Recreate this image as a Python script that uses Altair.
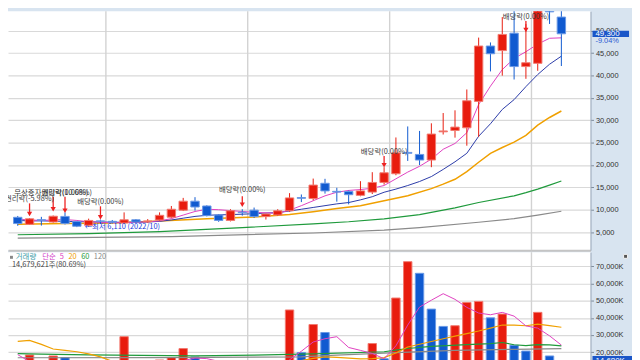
import altair as alt
import pandas as pd

# ---------------- data ----------------
idx = list(range(47))
opens = [8300, 6730, 7750, 7250, 8500, 7380, 6520, 7500, 7400, 7030, 7740, 7300, 7700, 8330, 9900,
         11900, 10830, 8820, 7600, 9450, 9900, 8460, 8820, 9760, 12700, 12500, 15900, 14100, 14070,
         13200, 13930, 16090, 18030, 22800, 22350, 21100, 27400, 27700, 28300, 34200, 46570, 45550,
         49440, 41980, 42700, 58000, 53040]
closes = [6900, 7960, 7650, 8540, 6900, 6300, 7600, 7420, 7200, 7740, 7250, 7500, 8750, 10100, 11900,
          10600, 8670, 7600, 9760, 9350, 8460, 9040, 9760, 12640, 12550, 15500, 14200, 13930, 13350,
          14200, 16090, 18250, 22700, 22600, 21100, 26900, 27600, 28450, 34340, 46570, 44840, 49160,
          41980, 42840, 55000, 54200, 49300]
highs = [8600, 8100, 8400, 8700, 9400, 7500, 8000, 7800, 7700, 9400, 7900, 7900, 9400, 10830, 12640,
         12800, 11000, 9000, 10110, 10100, 10480, 9100, 10110, 13700, 13400, 16950, 16900, 14900, 14300,
         16370, 18380, 19500, 26140, 28600, 27600, 29300, 31600, 32200, 36860, 48450, 47370, 53040,
         55500, 51470, 57000, 60000, 55000]
lows = [6400, 6600, 6450, 7100, 6700, 6110, 6200, 6800, 6900, 6900, 7000, 7100, 7500, 8100, 9700,
        9800, 8500, 7300, 7380, 8670, 8170, 7800, 8600, 9500, 11700, 12100, 13600, 11800, 11200,
        13000, 13500, 15600, 17700, 20900, 19970, 19500, 26800, 26100, 24300, 26300, 40900, 39950,
        39090, 39240, 41030, 51500, 42100]
# volume, thousands of shares
vols = [12000, 18300, 13000, 17750, 16800, 11000, 9500, 10500, 9000, 29020, 10000, 11000, 15400, 16800,
        22050, 17200, 12000, 9000, 8000, 7500, 6800, 14500, 14400, 44600, 19700, 36100, 31450, 13500,
        12500, 13400, 25000, 16100, 51570, 72800, 66000, 45100, 35000, 35400, 49000, 49600, 40000,
        42200, 24000, 20600, 43200, 17750, 14680]

# price moving averages
pma5 = [7900, 7700, 7600, 7700, 7800, 7600, 7300, 7200, 7100, 7100, 7200, 7300, 7500, 8000, 8800, 9600,
        10100, 10000, 9800, 9600, 9400, 9300, 9200, 9900, 10900, 12000, 13100, 13900, 14300, 14500,
        14800, 15400, 16900, 18400, 19700, 21300, 23500, 24800, 27200, 33500, 37600, 41300, 43800,
        45300, 47000, 48300, 48400]
pma10 = [7600, 7500, 7500, 7450, 7400, 7350, 7300, 7250, 7200, 7200, 7200, 7250, 7400, 7700, 8100, 8500,
         8750, 8850, 8900, 9000, 9100, 9250, 9350, 9700, 10100, 10500, 10900, 11300, 11600, 12200,
         12900, 13900, 14600, 15400, 16300, 17400, 19000, 20700, 22600, 26400, 29200, 32400, 34600,
         37500, 40200, 42500, 44300]
pma20_i = [0, 4, 8, 12, 16, 20, 23, 25, 27, 29, 31, 33, 35, 36, 37, 38, 39, 40, 41, 42, 43, 44, 45, 46]
pma20_v = [6750, 6900, 7050, 7480, 7980, 8350, 8950, 9550, 10250, 10900, 12000, 13100, 14700, 15700,
           16800, 18500, 20600, 22600, 23900, 25100, 26600, 28900, 30600, 32050]
pma60_i = [0, 6, 12, 19, 25, 28, 31, 34, 37, 39, 42, 43, 44, 45, 46]
pma60_v = [4400, 4650, 5100, 6000, 6850, 7300, 7950, 8900, 10400, 11600, 13100, 13800, 14600, 15500, 16400]
pma120_i = [0, 13, 25, 31, 34, 39, 42, 44, 46]
pma120_v = [3650, 4000, 4800, 5450, 6000, 7200, 8000, 8800, 9650]

# volume moving averages (K)
vma5 = [18500, 14500, 14000, 14200, 14000, 13500, 12500, 12000, 11500, 12500, 12000, 12500, 13000, 13500,
        15000, 16500, 16200, 14600, 13000, 11000, 9500, 9500, 10000, 15500, 20500, 25900, 27800, 29000,
        22700, 21000, 19200, 16100, 23700, 35800, 46300, 50300, 54100, 50800, 46100, 42800, 41800,
        43200, 41000, 35300, 34000, 29500, 24100]
vma20_i = [0, 1, 2, 3, 4, 5, 6, 7, 8, 10, 14, 18, 22, 24, 25, 26, 27, 28, 29, 30, 31, 32, 33, 34, 35, 36,
           37, 38, 39, 40, 41, 42, 43, 44, 45, 46]
vma20_v = [26300, 26800, 24500, 21800, 21000, 20200, 19000, 17200, 14600, 13500, 13500, 13200, 13800,
           15000, 16300, 17200, 16900, 16500, 16000, 16200, 16800, 19500, 23000, 24600, 26200, 27800,
           29300, 30800, 32300, 34000, 35800, 35800, 35400, 36300, 35500, 34500]
vma60_i = [0, 2, 6, 15, 20, 25, 31, 32, 33, 35, 38, 40, 41, 42, 43, 44, 45, 46]
vma60_v = [19100, 18800, 18400, 17800, 18200, 19000, 20200, 21200, 22100, 23300, 24400, 25000, 25600,
           24300, 23800, 24400, 24200, 23600]
vma120_i = [0, 12, 24, 26, 32, 37, 42, 46]
vma120_v = [16700, 16800, 17200, 17900, 19700, 21000, 21600, 22000]

# vertical grid (period separators), in candle index units
vgrid = [7.46, 19.46, 31.47, 43.47]

# event annotations
arrow_i = [1, 3, 4, 7, 19, 31, 43]
arrow_top = [11410, 12920, 12920, 10760, 12990, 21980, 52180]
arrow_head = [9040, 10110, 9790, 8330, 11090, 19930, 50130]
label_i = [43, 31, 19, 7, 3, 4, 1]
label_p = [53040, 22840, 14320, 11730, 13780, 13780, 12380]
label_t = ["배당락(0.00%)", "배당락(0.00%)", "배당락(0.00%)", "배당락(0.00%)",
           "무상증자권리락(10.68%)", "배당락(0.00%)", "권리락(-5.98%)"]
low_i, low_p, low_t = 5, 6110, "←최저 6,110 (2022/10)"
last_price, last_chg = 49300, "-9.04%"
tag_top, tag_bottom, chg_pos = 49960, 48580, 47700
last_vol_text = "14,679,621주(80.69%)"
last_vol_k = 14680

price_ticks = [5000, 10000, 15000, 20000, 25000, 30000, 35000, 40000, 45000, 50000]
vol_ticks = [20000, 30000, 40000, 50000, 60000, 70000]

# ---------------- styling ----------------
W, HP, HV = 590, 242, 110
RED, BLUE = "#e81c0e", "#105ad0"
RED_S, BLUE_S = "#f27a70", "#6a98e6"
FONT = "Noto Sans CJK KR"
AXF = "Liberation Sans"

xs = alt.Scale(domain=[-0.406, 48.05], nice=False, zero=False)
ysp = alt.Scale(domain=[950, 54335], nice=False, zero=False)
ysv = alt.Scale(domain=[14930, 78340], nice=False, zero=False)

xaxis_p = alt.Axis(domain=True, domainColor="#c4c4c4", domainWidth=2, ticks=False, labels=False,
                   grid=False, title=None)
yaxis_p = alt.Axis(orient="right", values=price_ticks, format=",d", grid=True, gridColor="#d9d9d9",
                   gridWidth=1.2, domainColor="#9aa8b8", tickColor="#7d8a99", tickSize=3,
                   labelFont=AXF, labelFontSize=7.5, labelColor="#333333", labelPadding=2,
                   title=None, minExtent=42, maxExtent=42, labelOverlap=False, labelFlush=False)
yaxis_v = alt.Axis(orient="right", values=vol_ticks, labelExpr="format(datum.value, ',') + 'K'",
                   grid=True, gridColor="#d9d9d9", gridWidth=1.2, domainColor="#9aa8b8",
                   tickColor="#7d8a99", tickSize=3, labelFont=AXF, labelFontSize=7.5,
                   labelColor="#333333", labelPadding=2, title=None, minExtent=42, maxExtent=42,
                   labelOverlap=False, labelFlush=False)

XP = alt.X("i:Q", scale=xs, axis=xaxis_p)
XV = alt.X("i:Q", scale=xs, axis=None)


def YP(f):
    return alt.Y(f, scale=ysp, axis=yaxis_p)


def YV(f):
    return alt.Y(f, scale=ysv, axis=yaxis_v)


dir_scale = alt.Scale(domain=["up", "down"], range=[RED, BLUE])
dir_scale_s = alt.Scale(domain=["up", "down"], range=[RED_S, BLUE_S])

cdf = pd.DataFrame({"i": idx, "o": opens, "h": highs, "l": lows, "c": closes})
cdf["dir"] = ["up" if c >= o else "down" for o, c in zip(opens, closes)]
vdf = pd.DataFrame({"i": idx, "v": vols, "zero": [0] * len(idx)})
vdf["dir"] = ["up" if k == 0 or vols[k] >= vols[k - 1] else "down" for k in range(len(vols))]
gdf = pd.DataFrame({"i": vgrid})

# ---------------- price panel ----------------
p_grid = alt.Chart(gdf).mark_rule(color="#d2d2d2", strokeWidth=1.4).encode(x=XP)
wick = alt.Chart(cdf).mark_rule(strokeWidth=1, clip=True).encode(
    x=XP, y=YP("l:Q"), y2="h:Q", color=alt.Color("dir:N", scale=dir_scale, legend=None))
body = alt.Chart(cdf).mark_bar(size=8.5, strokeWidth=1, clip=True).encode(
    x=XP, y=YP("o:Q"), y2="c:Q",
    fill=alt.Fill("dir:N", scale=dir_scale, legend=None),
    stroke=alt.Stroke("dir:N", scale=dir_scale_s, legend=None))


def pline(ii, vv, color, w):
    d = pd.DataFrame({"i": ii, "m": vv})
    return alt.Chart(d).mark_line(color=color, strokeWidth=w, clip=True).encode(x=XP, y=YP("m:Q"))


p_lines = [
    pline(pma120_i, pma120_v, "#8a8a8a", 1.2),
    pline(pma60_i, pma60_v, "#1f9a3c", 1.2),
    pline(pma20_i, pma20_v, "#f0a000", 1.5),
    pline(idx, pma10, "#2a3aa8", 1.0),
    pline(idx, pma5, "#e040c0", 1.0),
]

adf = pd.DataFrame({"i": arrow_i, "t": arrow_top, "hd": arrow_head})
a_stem = alt.Chart(adf).mark_rule(color="#ee2222", strokeWidth=1.3).encode(x=XP, y=YP("t:Q"), y2="hd:Q")
a_head = alt.Chart(adf).mark_point(shape="triangle-down", filled=True, color="#ee2222", size=28,
                                   opacity=1).encode(x=XP, y=YP("hd:Q"))
ldf = pd.DataFrame({"i": label_i, "p": label_p, "t": label_t})
labels = alt.Chart(ldf).mark_text(font=FONT, fontSize=7.5, color="#3a3a3a", clip=True,
                                  baseline="middle").encode(x=XP, y=YP("p:Q"), text="t:N")
lowdf = pd.DataFrame({"i": [low_i], "p": [low_p], "t": [low_t]})
low_lbl = alt.Chart(lowdf).mark_text(font=FONT, fontSize=7.5, color="#2340dd", align="left", dx=8,
                                     baseline="middle").encode(x=XP, y=YP("p:Q"), text="t:N")

tagdf = pd.DataFrame({"a": [tag_top], "b": [tag_bottom], "p": [last_price],
                      "t": [f"{last_price:,}"], "q": [chg_pos], "u": [last_chg]})
tag_box = alt.Chart(tagdf).mark_rect(color="#1a56c8").encode(
    x=alt.value(592), x2=alt.value(629), y=YP("a:Q"), y2="b:Q")
tag_txt = alt.Chart(tagdf).mark_text(font=AXF, fontSize=8, color="white", align="left",
                                     baseline="middle").encode(x=alt.value(595), y=YP("p:Q"), text="t:N")
chg_txt = alt.Chart(tagdf).mark_text(font=AXF, fontSize=7.5, color="#2a5ad0", align="left",
                                     baseline="middle").encode(x=alt.value(595), y=YP("q:Q"), text="u:N")

price = alt.layer(p_grid, *p_lines, wick, body, a_stem, a_head, labels, low_lbl,
                  tag_box, tag_txt, chg_txt).properties(width=W, height=HP)

# ---------------- volume panel ----------------
v_grid = alt.Chart(gdf).mark_rule(color="#d2d2d2", strokeWidth=1.4).encode(x=XV)
vbar = alt.Chart(vdf).mark_bar(size=8.5, strokeWidth=1, clip=True).encode(
    x=XV, y=YV("v:Q"), y2="zero:Q",
    fill=alt.Fill("dir:N", scale=dir_scale, legend=None),
    stroke=alt.Stroke("dir:N", scale=dir_scale_s, legend=None))


def vline(ii, vv, color, w):
    d = pd.DataFrame({"i": ii, "m": vv})
    return alt.Chart(d).mark_line(color=color, strokeWidth=w, clip=True).encode(x=XV, y=YV("m:Q"))


v_lines = [
    vline(vma120_i, vma120_v, "#8a8a8a", 1.2),
    vline(vma60_i, vma60_v, "#1f9a3c", 1.2),
    vline(vma20_i, vma20_v, "#f0a000", 1.2),
    vline(idx, vma5, "#e040c0", 1.0),
]


def vtext(txt, x, y, color, size=7.5, align="left"):
    d = pd.DataFrame({"t": [txt]})
    return alt.Chart(d).mark_text(font=FONT, fontSize=size, color=color, align=align,
                                  baseline="middle").encode(x=alt.value(x), y=alt.value(y), text="t:N")


legend_parts = [
    vtext("거래량", 7.9, 5.2, "#3c9ca8"),
    vtext("단순", 34.6, 5.2, "#d23cc8"),
    vtext("5", 52.3, 5.2, "#e040c0"),
    vtext("20", 61.2, 5.2, "#f0a000"),
    vtext("60", 74.1, 5.2, "#1f9a3c"),
    vtext("120", 86.9, 5.2, "#888888"),
    vtext(last_vol_text, 4.0, 12.6, "#444444"),
]
sq = alt.Chart(pd.DataFrame({"t": [0]})).mark_square(color="#888888", size=9, opacity=1).encode(
    x=alt.value(3.5), y=alt.value(5.2))
icon = alt.Chart(pd.DataFrame({"t": [0]})).mark_square(color="#555555", size=16, opacity=1,
                                                        stroke="#f4f4f4", strokeWidth=1).encode(
    x=alt.value(625.5), y=alt.value(4.2))

vtag = pd.DataFrame({"a": [last_vol_k + 3100], "b": [last_vol_k - 2600], "p": [last_vol_k],
                     "t": [f"{last_vol_k:,}K"]})
vtag_box = alt.Chart(vtag).mark_rect(color="#1a56c8").encode(
    x=alt.value(592), x2=alt.value(632), y=YV("a:Q"), y2="b:Q")
vtag_txt = alt.Chart(vtag).mark_text(font=AXF, fontSize=8, color="white", align="left",
                                     baseline="middle").encode(x=alt.value(595), y=YV("p:Q"), text="t:N")

volume = alt.layer(v_grid, vbar, *v_lines, sq, *legend_parts, icon, vtag_box, vtag_txt).properties(
    width=W, height=HV)

chart = alt.vconcat(price, volume, spacing=0).resolve_scale(
    x="independent", y="independent").properties(padding=0, background="#d8e4f0").configure_view(
    stroke=None, fill="white")

chart.save("out.html", embed_options={"renderer": "svg", "actions": False})
